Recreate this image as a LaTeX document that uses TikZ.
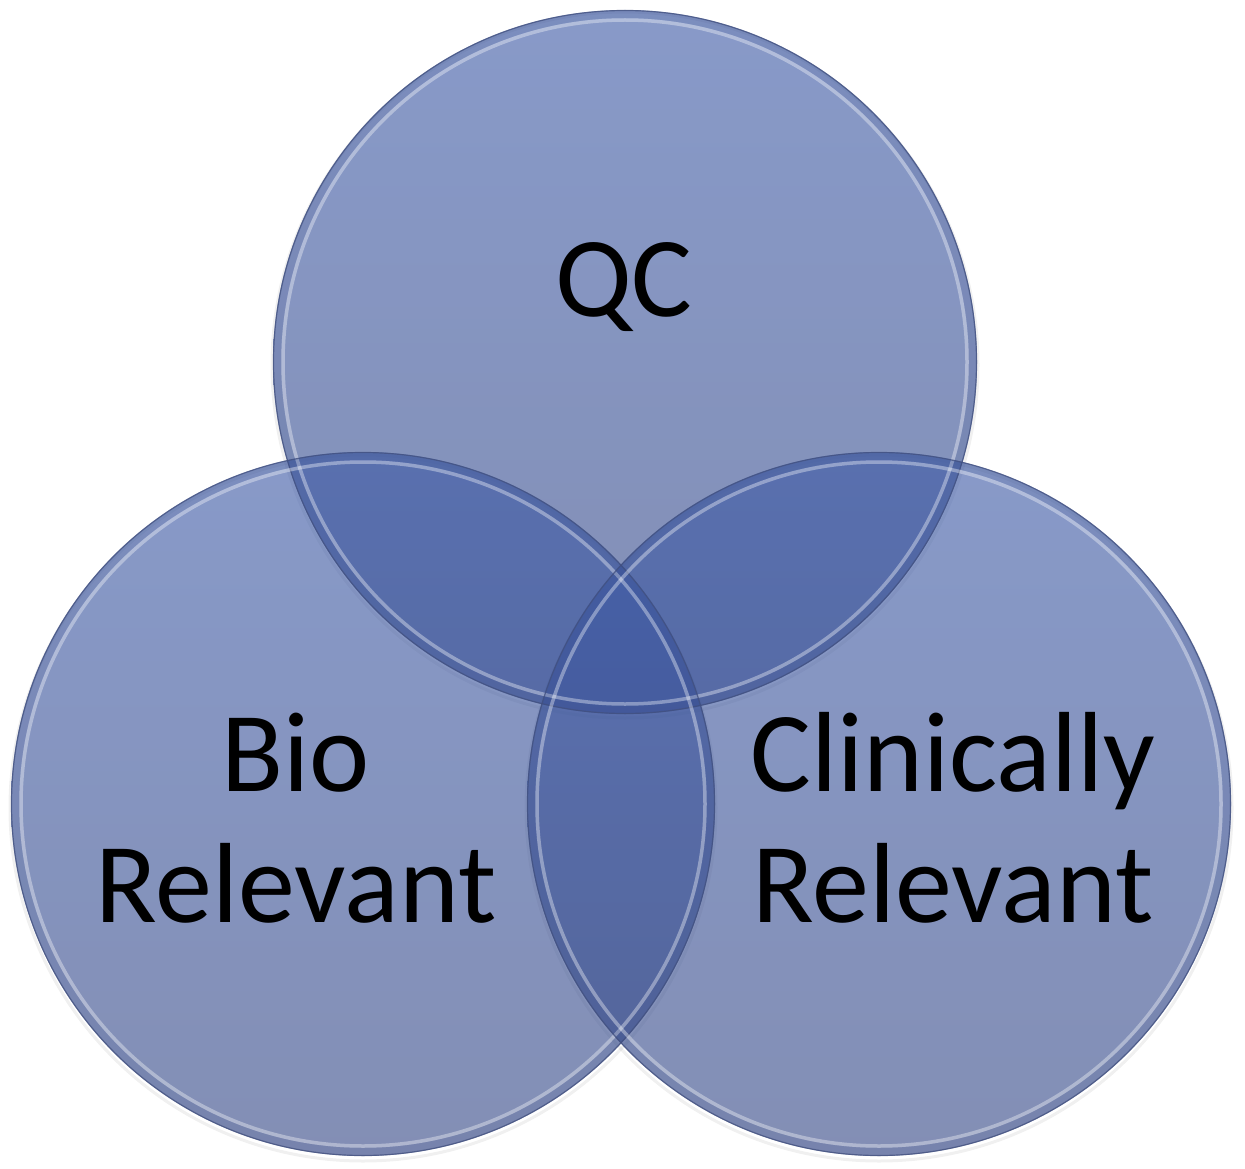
\documentclass[tikz,border=0pt]{standalone}
\usepackage{fontspec}
\setmainfont{Carlito}
\definecolor{ctop}{RGB}{63,92,168}
\definecolor{cbot}{RGB}{55,74,136}
\definecolor{rimdark}{RGB}{66,80,126}
\definecolor{bandc}{RGB}{50,70,130}
\tikzset{
  venn/.style={circle, minimum size=704pt, inner sep=0pt, draw=none,
    top color=ctop, bottom color=cbot, fill opacity=0.62},
  band/.style={draw=bandc, line width=8pt, draw opacity=0.14},
  glow/.style={draw=white, line width=3.5pt, draw opacity=0.36},
  rim/.style={draw=rimdark, line width=1.2pt, draw opacity=0.75},
  shadowrim/.style={draw=black, line width=3pt, draw opacity=0.06},
  label/.style={inner sep=0pt, align=center, text=black,
    font=\fontsize{114}{131}\selectfont}
}
\begin{document}
\begin{tikzpicture}[x=1pt,y=-1pt]
\useasboundingbox[fill=white] (0,0) rectangle (1245,1169);
% soft shadows
\draw[shadowrim] (625,365) circle[radius=353];
\draw[shadowrim] (363,808) circle[radius=353];
\draw[shadowrim] (879,808) circle[radius=353];
% circles
\node[venn] (qc) at (625,362) {};
\node[venn] (bio) at (363,804) {};
\node[venn] (clin) at (879,804) {};
% bevels
\foreach \c in {qc,bio,clin}{
  \draw[band] (\c.center) circle[radius=348];
  \draw[glow] (\c.center) circle[radius=342];
  \draw[rim] (\c.center) circle[radius=351.5];
}
% labels
\node[label, anchor=base] (tqc) at (624,316) {QC};
\node[label, anchor=south] (tbio) at (296,924) {Bio\\Relevant};
\node[label, anchor=south] (tclin) at (953,924) {Clinically\\Relevant};
\end{tikzpicture}
\end{document}
